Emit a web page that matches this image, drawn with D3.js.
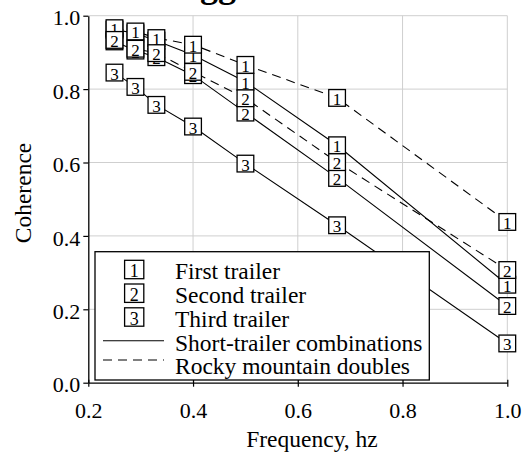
<!DOCTYPE html>
<html>
<head>
<meta charset="utf-8">
<script src="https://cdn.jsdelivr.net/npm/d3@7"></script>
<style>
  html, body { margin: 0; padding: 0; background: #fff; }
  svg { display: block; }
  text { font-family: "Liberation Serif", "Times New Roman", serif; fill: #000; }
</style>
</head>
<body>
<svg id="chart" width="528" height="452"></svg>
<script>
// ---- data ----
const freq = [0.25, 0.29, 0.33, 0.4, 0.5, 0.675, 1.0];
const shortFirst  = [0.962, 0.952, 0.932, 0.893, 0.820, 0.647, 0.267];
const shortSecond = [0.930, 0.905, 0.887, 0.838, 0.736, 0.558, 0.209];
const shortThird  = [0.845, 0.806, 0.757, 0.698, 0.597, 0.429, 0.107];
const rockyFirst  = [0.966, 0.957, 0.939, 0.921, 0.866, 0.776, 0.438];
const rockySecond = [0.934, 0.910, 0.898, 0.847, 0.775, 0.601, 0.307];
const xTicks = [0.2, 0.4, 0.6, 0.8, 1.0];
const yTicks = [0.0, 0.2, 0.4, 0.6, 0.8, 1.0];
const legendMarkers = ["First trailer", "Second trailer", "Third trailer"];
const legendLines = ["Short-trailer combinations", "Rocky mountain doubles"];
const titleText = "Loggers";
const xLabel = "Frequency, hz";
const yLabel = "Coherence";

const series = [
  { values: shortFirst,  mark: "1", dashed: false },
  { values: shortSecond, mark: "2", dashed: false },
  { values: shortThird,  mark: "3", dashed: false },
  { values: rockyFirst,  mark: "1", dashed: true },
  { values: rockySecond, mark: "2", dashed: true }
];

// ---- layout ----
const svg = d3.select("#chart");
const L = 88.3, R = 507.3, T = 15.7, B = 382.7;
const x = d3.scaleLinear().domain([0.2, 1.0]).range([L, R]);
const y = d3.scaleLinear().domain([0, 1]).range([B, T]);
const DASH = "9,6";

// title (mostly above the visible area)
svg.append("text").attr("x", 158).attr("y", -3.5)
  .attr("font-size", 36).attr("font-weight", "bold").text(titleText);

// grid
const grid = svg.append("g").attr("stroke", "#cfcfcf").attr("stroke-width", 1);
grid.selectAll(".gh").data(yTicks.filter(d => d > 0)).enter().append("line")
  .attr("x1", L).attr("x2", R).attr("y1", d => y(d)).attr("y2", d => y(d));
grid.selectAll(".gv").data(xTicks.filter(d => d > 0.2)).enter().append("line")
  .attr("y1", T).attr("y2", B).attr("x1", d => x(d)).attr("x2", d => x(d));

// axes
const yAxis = svg.append("g").attr("transform", `translate(${L},0)`)
  .call(d3.axisLeft(y).tickValues(yTicks).tickFormat(d3.format(".1f")).tickSize(5).tickSizeOuter(0).tickPadding(3));
const xAxis = svg.append("g").attr("transform", `translate(0,${B})`)
  .call(d3.axisBottom(x).tickValues(xTicks).tickFormat(d3.format(".1f")).tickSize(4).tickSizeOuter(0));
[yAxis, xAxis].forEach(g => {
  g.select(".domain").attr("stroke", "#000").attr("stroke-width", 1.3);
  g.selectAll(".tick line").attr("stroke", "#000").attr("stroke-width", 1.2);
  g.selectAll(".tick text").attr("font-size", 22).attr("font-family", "Liberation Serif, serif").attr("fill", "#000");
});
yAxis.selectAll(".tick text").attr("dy", "0.42em");
xAxis.selectAll(".tick line").attr("y1", -3);
xAxis.selectAll(".tick text").attr("y", 35.3).attr("dy", 0);

// axis titles
svg.append("text").attr("x", 312).attr("y", 447).attr("text-anchor", "middle")
  .attr("font-size", 23.5).text(xLabel);
svg.append("text").attr("transform", "translate(31,193) rotate(-90)").attr("text-anchor", "middle")
  .attr("font-size", 23.5).text(yLabel);

// lines
const line = d3.line().x((d, i) => x(freq[i])).y(d => y(d));
svg.append("g").selectAll("path").data(series).enter().append("path")
  .attr("d", s => line(s.values))
  .attr("fill", "none").attr("stroke", "#000").attr("stroke-width", 1.1)
  .attr("stroke-dasharray", s => s.dashed ? DASH : null);

// markers
const BOX = 16.7;
series.forEach(s => {
  const g = svg.append("g");
  const m = g.selectAll("g").data(s.values).enter().append("g")
    .attr("transform", (d, i) => `translate(${x(freq[i])},${y(d)})`);
  m.append("rect").attr("x", -BOX / 2).attr("y", -BOX / 2).attr("width", BOX).attr("height", BOX)
    .attr("fill", "#fff").attr("stroke", "#000").attr("stroke-width", 1.3);
  m.append("text").attr("text-anchor", "middle").attr("y", 7).attr("font-size", 17).text(s.mark);
});

// legend
const lg = svg.append("g");
lg.append("rect").attr("x", 95).attr("y", 251.7).attr("width", 334.3).attr("height", 128.3)
  .attr("fill", "#fff").attr("stroke", "#000").attr("stroke-width", 1.3);
const rowBase = [279, 302.7, 326.5, 350.5, 374];
legendMarkers.forEach((t, i) => {
  const cy = rowBase[i] - 9.5;
  lg.append("rect").attr("x", 134.2 - 9.6).attr("y", cy - 9.2).attr("width", 19.2).attr("height", 18.4)
    .attr("fill", "#fff").attr("stroke", "#000").attr("stroke-width", 1.3);
  lg.append("text").attr("x", 134.2).attr("y", cy + 7.5).attr("text-anchor", "middle")
    .attr("font-size", 18).text(String(i + 1));
  lg.append("text").attr("x", 175).attr("y", rowBase[i]).attr("font-size", 23.5).text(t);
});
legendLines.forEach((t, i) => {
  const ly = [340.7, 360][i];
  lg.append("line").attr("x1", 103).attr("x2", 164).attr("y1", ly).attr("y2", ly)
    .attr("stroke", "#000").attr("stroke-width", 1.1)
    .attr("stroke-dasharray", i === 1 ? DASH : null);
  lg.append("text").attr("x", 175).attr("y", rowBase[3 + i]).attr("font-size", 23.5).text(t);
});
</script>
</body>
</html>
